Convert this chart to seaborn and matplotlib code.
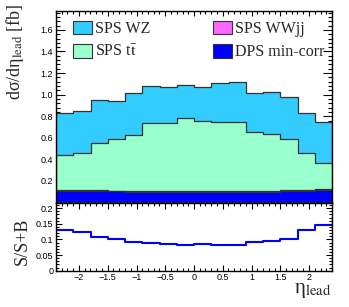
import numpy as np
import pandas as pd
import matplotlib
matplotlib.use("Agg")
import matplotlib.pyplot as plt
import seaborn as sns
from matplotlib.patches import Patch
from matplotlib.ticker import MultipleLocator, FixedLocator

# ---- data ----
bin_edges = [-2.4, -2.1, -1.8, -1.5, -1.2, -0.9, -0.6, -0.3, 0.0,
             0.3, 0.6, 0.9, 1.2, 1.5, 1.8, 2.1, 2.4]
dps_mincorr = [0.110, 0.108, 0.105, 0.103, 0.100, 0.098, 0.096, 0.095,
               0.095, 0.095, 0.096, 0.098, 0.101, 0.105, 0.110, 0.115]
sps_wwjj = [0.009, 0.008, 0.008, 0.008, 0.008, 0.007, 0.007, 0.007,
            0.007, 0.007, 0.007, 0.008, 0.008, 0.008, 0.008, 0.009]
sps_ttbar = [0.322, 0.340, 0.436, 0.475, 0.518, 0.635, 0.631, 0.678,
             0.657, 0.647, 0.646, 0.545, 0.526, 0.473, 0.338, 0.240]
sps_wz = [0.389, 0.395, 0.401, 0.358, 0.392, 0.340, 0.334, 0.310,
          0.314, 0.356, 0.371, 0.361, 0.392, 0.395, 0.371, 0.385]
ratio_s_sb = [0.130, 0.123, 0.107, 0.102, 0.093, 0.088, 0.086, 0.082,
              0.086, 0.082, 0.081, 0.093, 0.096, 0.102, 0.129, 0.146]

labels = ["SPS WZ", r"SPS t$\bar{\rm t}$", "SPS WWjj", "DPS min-corr"]
colors = ["#33CCFF", "#99FFCC", "#FF66FF", "#0000FF"]

edges = np.array(bin_edges)
centers = 0.5 * (edges[:-1] + edges[1:])

# cumulative stack, bottom to top: DPS, WWjj, ttbar, WZ
comps = [np.array(dps_mincorr), np.array(sps_wwjj), np.array(sps_ttbar), np.array(sps_wz)]
cum = np.cumsum(comps, axis=0)
stack_colors = [colors[3], colors[2], colors[1], colors[0]]

sns.set_style("ticks")
plt.rcParams["font.family"] = ["Liberation Sans", "DejaVu Sans"]
plt.rcParams["mathtext.fontset"] = "stix"

fig = plt.figure(figsize=(3.49, 3.07), dpi=100)
W, H = 349.0, 307.0
x0, x1 = 56 / W, 332 / W
ax1 = fig.add_axes([x0, 1 - 202.5 / H, x1 - x0, (202.5 - 11) / H])
ax2 = fig.add_axes([x0, 1 - 270.7 / H, x1 - x0, (270.7 - 202.5) / H])

# draw stack top-down so lower layers cover upper ones
for i in range(3, -1, -1):
    df = pd.DataFrame({"eta": centers, "w": cum[i]})
    sns.histplot(data=df, x="eta", weights="w", bins=list(bin_edges), element="step",
                 fill=True, color=stack_colors[i], alpha=1.0,
                 edgecolor="#333333", linewidth=0.9, ax=ax1)

df_r = pd.DataFrame({"eta": centers, "r": ratio_s_sb})
sns.histplot(data=df_r, x="eta", weights="r", bins=list(bin_edges), element="step",
             fill=False, color="#0000FF", linewidth=1.5, ax=ax2)

ax1.set_xlim(-2.4, 2.4)
ax1.set_ylim(0, 1.775)
ax2.set_xlim(-2.4, 2.4)
ax2.set_ylim(0, 0.218)

ax1.yaxis.set_major_locator(FixedLocator([0.2, 0.4, 0.6, 0.8, 1.0, 1.2, 1.4, 1.6]))
ax1.yaxis.set_minor_locator(MultipleLocator(0.04))
ax2.yaxis.set_major_locator(FixedLocator([0, 0.05, 0.1, 0.15, 0.2]))
ax2.yaxis.set_minor_locator(MultipleLocator(0.01))
ax2.set_yticklabels(["0", "0.05", "0.1", "0.15", "0.2"])
xt = [-2, -1.5, -1, -0.5, 0, 0.5, 1, 1.5, 2]
xt_labels = ["\u22122", "\u22121.5", "\u22121", "\u22120.5", "0", "0.5", "1", "1.5", "2"]
for ax in (ax1, ax2):
    ax.xaxis.set_major_locator(FixedLocator(xt))
    ax.xaxis.set_minor_locator(MultipleLocator(0.1))
    ax.set_xlabel("")
    ax.set_ylabel("")
    ax.tick_params(which="both", direction="in", top=True, right=True,
                   labelsize=6.5, width=0.8, colors="black", pad=2)
    for s in ax.spines.values():
        s.set_linewidth(1.0)
        s.set_color("black")
ax1.tick_params(axis="y", which="major", length=6.5)
ax1.tick_params(axis="y", which="minor", length=3.2)
ax1.tick_params(axis="x", which="major", length=3.6)
ax1.tick_params(axis="x", which="minor", length=1.8)
ax2.tick_params(axis="y", which="major", length=4.5)
ax2.tick_params(axis="y", which="minor", length=2.2)
ax2.tick_params(axis="x", which="major", length=4.0)
ax2.tick_params(axis="x", which="minor", length=2.0)
ax1.tick_params(labelbottom=False)
ax2.set_xticklabels(xt_labels)

# legends
serif = {"family": ["Liberation Serif", "DejaVu Serif"], "size": 11.5}
h = [Patch(facecolor=c, edgecolor="#333333", linewidth=0.8) for c in colors]
for hh, ll, xa in ((h[:2], labels[:2], 73), (h[2:], labels[2:], 213)):
    fig.legend(handles=hh, labels=ll, loc="upper left",
               bbox_to_anchor=(xa / W, 1 - 21 / H), bbox_transform=fig.transFigure,
               frameon=False, prop=serif, borderpad=0, borderaxespad=0,
               handlelength=1.2, handleheight=0.9, handletextpad=0.2,
               labelspacing=0.45)

# axis titles (upright Greek, as in the reference)
fig.text(15 / W, 1 - 4 / H, "d\u03c3/d\u03b7$_{\\rm lead}$ [fb]", rotation=90,
         ha="center", va="top", fontsize=13, family=["Liberation Serif", "DejaVu Serif"])
fig.text(22 / W, 1 - 241 / H, "S/S+B", rotation=90, ha="center", va="center",
         fontsize=13, family=["Liberation Serif", "DejaVu Serif"])
fig.text(331 / W, 1 - 281 / H, "\u03b7$_{\\rm lead}$", ha="right", va="top",
         fontsize=15, family=["Liberation Serif", "DejaVu Serif"])

fig.savefig("out.png", dpi=100)
